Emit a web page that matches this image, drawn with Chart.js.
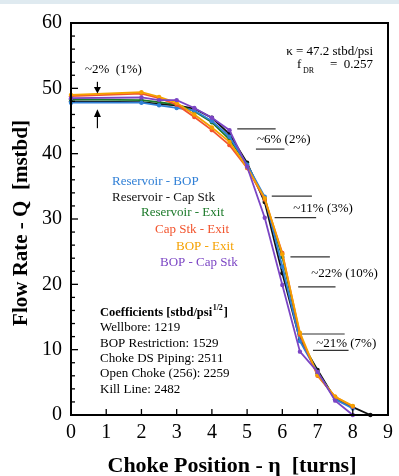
<!DOCTYPE html>
<html>
<head>
<meta charset="utf-8">
<script src="https://cdn.jsdelivr.net/npm/chart.js@4.4.1/dist/chart.umd.min.js"></script>
<style>
  html, body { margin: 0; padding: 0; background: #ffffff; }
  #wrap { width: 399px; height: 476px; position: relative; }
</style>
</head>
<body>
<div id="wrap"><canvas id="chokeChart" width="399" height="476"></canvas></div>
<script>
// choke position (turns) where each curve was evaluated
const chokeTurns = [0, 2, 2.5, 3, 3.5, 4, 4.5, 5, 5.5, 6, 6.5, 7, 7.5, 8, 8.5];

// flow rate Q [mstbd] for each pressure pair (null = no point)
const reservoirBop    = [47.8, 47.8, 47.4, 47.0, 46.6, 45.0, 42.6, 38.3, 33.4, 22.7, 11.3, 6.5, 2.4, 1.0, null];
const reservoirCapStk = [48.0, 47.9, 47.6, 47.4, 46.9, 45.5, 43.0, 38.6, 32.6, 21.7, 11.5, 6.9, 2.4, 1.2, 0];
const reservoirExit   = [48.3, 48.2, 47.9, 47.5, 46.5, 44.8, 42.2, 38.3, 33.0, 24.2, 12.0, 6.4, 2.6, 1.2, null];
const capStkExit      = [48.8, 49.2, 48.5, 47.5, 45.6, 43.6, 41.3, 37.8, 33.0, 24.8, 12.3, 6.0, 2.8, 1.3, null];
const bopExit         = [49.0, 49.4, 48.7, 47.8, 46.0, 44.0, 41.8, 37.9, 33.2, 24.6, 12.6, 6.1, 2.8, 1.4, null];
const bopCapStk       = [48.5, 48.6, 48.2, 48.2, 47.0, 45.5, 43.6, 38.0, 30.2, 19.9, 9.7, 6.6, 2.2, 0, null];

const seriesNames  = ['Reservoir - BOP', 'Reservoir - Cap Stk', 'Reservoir - Exit', 'Cap Stk - Exit', 'BOP - Exit', 'BOP - Cap Stk'];
const seriesValues = [reservoirBop, reservoirCapStk, reservoirExit, capStkExit, bopExit, bopCapStk];
const seriesColors = ['#2f7fd6', '#111111', '#1c7a2a', '#f2542d', '#f5a100', '#7b45c4'];

const xTickValues = [0, 1, 2, 3, 4, 5, 6, 7, 8, 9];
const yTickValues = [0, 10, 20, 30, 40, 50, 60];

const coefLines = ['Wellbore: 1219', 'BOP Restriction: 1529', 'Choke DS Piping: 2511', 'Open Choke (256): 2259', 'Kill Line: 2482'];

const SERIF = '"Liberation Serif", "DejaVu Serif", serif';

function toPoints(values) {
    const pts = [];
    values.forEach((v, i) => {
        if (v !== null) pts.push({ x: chokeTurns[i], y: v });
    });
    return pts;
}

// draw order: black on top, like the original
const drawOrder = [5, 4, 3, 0, 2, 1];
const datasets = drawOrder.map(i => ({
    label: seriesNames[i],
    data: toPoints(seriesValues[i]),
    borderColor: seriesColors[i],
    backgroundColor: seriesColors[i],
    borderWidth: 1.8,
    pointRadius: 2.2,
    pointBorderWidth: 0,
    tension: 0,
    clip: false
}));

// frame, inward ticks, annotations and axis titles
const decorPlugin = {
    id: 'decor',
    beforeDraw(chart) {
        const ctx = chart.ctx;
        ctx.save();
        ctx.fillStyle = '#ffffff';
        ctx.fillRect(0, 0, chart.width, chart.height);
        ctx.fillStyle = '#dfeaf0';
        ctx.fillRect(0, 0, chart.width, 4);
        ctx.restore();
    },
    afterDraw(chart) {
        const ctx = chart.ctx;
        const area = chart.chartArea;
        const xs = chart.scales.x;
        const ys = chart.scales.y;
        const px = v => xs.getPixelForValue(v);
        const py = v => ys.getPixelForValue(v);

        ctx.save();
        ctx.strokeStyle = '#000';
        ctx.fillStyle = '#000';

        // frame
        ctx.lineWidth = 2;
        ctx.strokeRect(area.left, area.top, area.right - area.left, area.bottom - area.top);

        // inward ticks on left axis
        ctx.lineWidth = 1.3;
        for (let v = 2; v < 60; v += 2) {
            const len = v % 10 === 0 ? 7 : 4;
            ctx.beginPath();
            ctx.moveTo(area.left, py(v));
            ctx.lineTo(area.left + len, py(v));
            ctx.stroke();
        }
        // inward ticks on bottom axis
        for (let v = 1; v < 9; v++) {
            ctx.beginPath();
            ctx.moveTo(px(v), area.bottom);
            ctx.lineTo(px(v), area.bottom - 6);
            ctx.stroke();
        }

        // kappa and f_DR
        ctx.font = '13px ' + SERIF;
        ctx.textBaseline = 'middle';
        ctx.textAlign = 'right';
        ctx.fillText('\u03BA = 47.2 stbd/psi', 373, 52);
        ctx.fillText('=  0.257', 373, 65);
        ctx.textAlign = 'left';
        ctx.fillText('f', 297, 65);
        ctx.font = '8px ' + SERIF;
        ctx.fillText('DR', 303, 71);

        // ~2% (1%) with arrows
        ctx.font = '13px ' + SERIF;
        ctx.textAlign = 'left';
        ctx.fillText('~2%  (1%)', 85, 70);
        const ax = px(0.75);
        ctx.lineWidth = 1.2;
        ctx.beginPath();
        ctx.moveTo(ax, py(51.0));
        ctx.lineTo(ax, py(49.6));
        ctx.stroke();
        ctx.beginPath();
        ctx.moveTo(ax - 3.5, py(50.2));
        ctx.lineTo(ax + 3.5, py(50.2));
        ctx.lineTo(ax, py(49.2));
        ctx.closePath();
        ctx.fill();
        ctx.beginPath();
        ctx.moveTo(ax, py(43.9));
        ctx.lineTo(ax, py(46.0));
        ctx.stroke();
        ctx.beginPath();
        ctx.moveTo(ax - 3.5, py(45.6));
        ctx.lineTo(ax + 3.5, py(45.6));
        ctx.lineTo(ax, py(46.8));
        ctx.closePath();
        ctx.fill();

        // spread brackets
        const brackets = [
            { lines: [[4.72, 5.81, 43.8], [5.25, 6.06, 40.7]], text: '~6% (2%)', tx: 5.28, ty: 42.2 },
            { lines: [[5.70, 6.84, 33.5], [5.78, 6.96, 30.2]], text: '~11% (3%)', tx: 6.31, ty: 31.6 },
            { lines: [[6.23, 7.35, 24.2], [6.45, 7.51, 19.6]], text: '~22% (10%)', tx: 6.82, ty: 21.7 },
            { lines: [[6.56, 7.77, 12.4], [6.87, 7.88, 9.9]], text: '~21% (7%)', tx: 6.96, ty: 10.9 }
        ];
        ctx.strokeStyle = '#333';
        ctx.lineWidth = 1.2;
        brackets.forEach(b => {
            b.lines.forEach(l => {
                ctx.beginPath();
                ctx.moveTo(px(l[0]), py(l[2]));
                ctx.lineTo(px(l[1]), py(l[2]));
                ctx.stroke();
            });
            ctx.fillText(b.text, px(b.tx), py(b.ty));
        });

        // series names, staggered like the original
        const nameX = [112, 112, 141, 155, 176, 160];
        const nameY = [182, 198, 213, 230, 247, 263];
        ctx.font = '13px ' + SERIF;
        seriesNames.forEach((name, i) => {
            ctx.fillStyle = seriesColors[i];
            ctx.fillText(name, nameX[i], nameY[i]);
        });

        // coefficients block
        ctx.fillStyle = '#000';
        ctx.font = 'bold 12.5px ' + SERIF;
        ctx.fillText('Coefficients [stbd/psi', 100, 313);
        let w = ctx.measureText('Coefficients [stbd/psi').width;
        ctx.font = 'bold 8px ' + SERIF;
        ctx.fillText('1/2', 100 + w + 0.5, 308);
        let w2 = ctx.measureText('1/2').width;
        ctx.font = 'bold 12.5px ' + SERIF;
        ctx.fillText(']', 100 + w + w2 + 1.5, 313);
        ctx.font = '13px ' + SERIF;
        coefLines.forEach((t, i) => {
            ctx.fillText(t, 100, 328 + i * 15.3);
        });

        // axis titles
        ctx.font = 'bold 22px ' + SERIF;
        ctx.textAlign = 'center';
        ctx.fillText('Choke Position - \u03B7  [turns]', 232, 466);
        ctx.save();
        ctx.translate(22, 223);
        ctx.rotate(-Math.PI / 2);
        ctx.font = 'bold 21px ' + SERIF;
        ctx.fillText('Flow Rate - Q  [mstbd]', 0, 0);
        ctx.restore();

        ctx.restore();
    }
};

const chart = new Chart(document.getElementById('chokeChart').getContext('2d'), {
    type: 'line',
    data: { datasets: datasets },
    options: {
        responsive: false,
        animation: false,
        layout: { padding: { left: 0, right: 5, top: 23, bottom: 0 } },
        plugins: {
            legend: { display: false },
            tooltip: { enabled: false }
        },
        scales: {
            x: {
                type: 'linear',
                min: 0,
                max: 9,
                afterFit: s => { s.height = 61; },
                afterBuildTicks: s => { s.ticks = xTickValues.map(v => ({ value: v })); },
                grid: { display: true, drawOnChartArea: false, drawTicks: false },
                border: { display: false },
                ticks: {
                    padding: 6,
                    color: '#000',
                    font: { family: SERIF, size: 20 }
                }
            },
            y: {
                min: 0,
                max: 60,
                afterFit: s => { s.width = 71; },
                afterBuildTicks: s => { s.ticks = yTickValues.map(v => ({ value: v })); },
                grid: { display: true, drawOnChartArea: false, drawTicks: false },
                border: { display: false },
                ticks: {
                    padding: 9,
                    color: '#000',
                    font: { family: SERIF, size: 20 }
                }
            }
        }
    },
    plugins: [decorPlugin]
});
</script>
</body>
</html>
